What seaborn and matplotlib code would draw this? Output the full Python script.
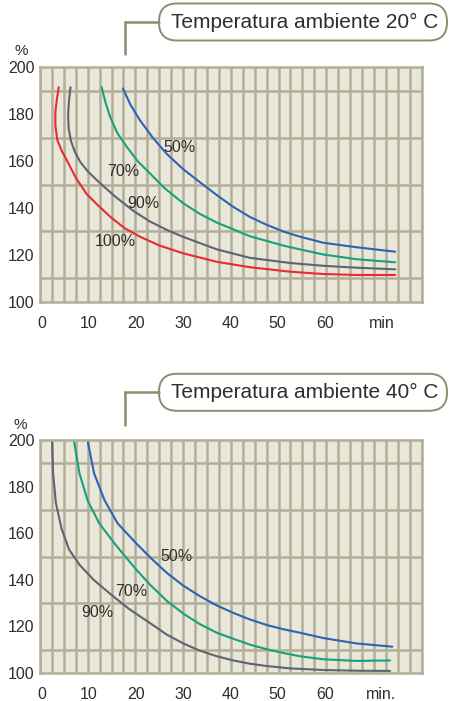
import matplotlib.pyplot as plt
import seaborn as sns
import numpy as np
import pandas as pd
from matplotlib.patches import FancyBboxPatch
from matplotlib.lines import Line2D

# === Data ===

# 20 C panel: drying curves per relative humidity.
t20_100_x = [3.6, 3.2, 2.9, 2.9, 3.3, 4.2, 5.3, 7.2, 9.5, 12.0, 14.5, 17.5, 20.8, 25.0, 30.0, 37.1, 44.1, 52.6, 59.7, 66.7, 74.9]
t20_100_y = [191.4, 186, 181, 175, 169, 164.5, 160.4, 153, 146, 141, 136.3, 131.5, 127.8, 124, 120.7, 117.1, 114.8, 112.9, 111.9, 111.5, 111.5]
t20_90_x = [6.1, 5.8, 5.6, 5.7, 6.2, 7.0, 8.2, 9.8, 12.4, 15.5, 19.4, 22.9, 26.5, 30.0, 37.1, 44.1, 52.6, 59.7, 66.7, 74.9]
t20_90_y = [191.4, 186, 180, 174, 168.5, 164, 159.5, 155.5, 150.5, 145, 138.8, 134.3, 130.7, 127.7, 122.4, 118.8, 116.6, 115.4, 114.6, 113.9]
t20_70_x = [12.7, 13.5, 14.5, 16.0, 18.0, 20.3, 22.9, 26.0, 30.0, 33.5, 37.1, 44.1, 51.2, 54.7, 59.7, 66.7, 74.9]
t20_70_y = [191.4, 185, 178.8, 172, 166.1, 160, 154.8, 148.5, 142, 137.5, 133.8, 128, 124, 122.4, 120.2, 118.2, 116.9]
t20_50_x = [17.2, 18.8, 20.8, 23.5, 26.5, 30.0, 33.5, 37.1, 40.5, 44.1, 47.5, 51.2, 54.7, 59.7, 66.7, 74.9]
t20_50_y = [190.9, 184, 177.4, 170, 163, 156.5, 151, 145.5, 140.6, 136.2, 133, 130, 127.8, 125.2, 123.3, 121.4]

# 40 C panel.
t40_90_x = [2.2, 2.4, 3.0, 4.2, 5.8, 8.0, 11.0, 14.5, 18.5, 22.9, 26.5, 30.0, 33.5, 37.1, 40.6, 44.1, 47.7, 52.6, 59.7, 66.7, 73.8]
t40_90_y = [200, 186, 173, 162, 153, 146.5, 140, 134, 127.5, 121.5, 116.5, 112.7, 109.6, 107.2, 105.4, 104, 103, 102, 101.3, 101, 100.9]
t40_70_x = [6.8, 8.0, 9.7, 12.2, 15.4, 17.5, 20.0, 22.9, 26.5, 30.0, 33.5, 37.1, 40.6, 44.1, 47.7, 51.2, 54.7, 59.7, 66.7, 73.8]
t40_70_y = [200, 185.7, 174.2, 164.2, 155.7, 150.5, 144.5, 138, 131, 125.5, 121, 117.3, 114.7, 112.2, 110.2, 108.6, 107.2, 105.9, 105.2, 105.4]
t40_50_x = [9.7, 11.1, 13.3, 16.1, 20.0, 23.2, 26.5, 30.0, 33.5, 37.1, 40.6, 44.1, 47.7, 51.2, 54.7, 59.7, 66.7, 74.3]
t40_50_y = [200, 185.7, 174.2, 164.2, 155.7, 149.2, 143, 137.5, 133, 129, 125.8, 123, 120.6, 118.8, 117.3, 115, 112.7, 111.3]

# Curve label positions (min, %).
labels_20 = {'50%': (29.1, 165.8), '70%': (17.2, 155.7), '90%': (21.5, 142), '100%': (15.5, 125.7)}
labels_40 = {'50%': (28.6, 149.9), '70%': (18.9, 135.2), '90%': (11.8, 125.9)}

x_ticks = [0, 10, 20, 30, 40, 50, 60, 72]
x_labels_20 = ['0', '10', '20', '30', '40', '50', '60', 'min']
x_labels_40 = ['0', '10', '20', '30', '40', '50', '60', 'min.']
y_ticks = [100, 120, 140, 160, 180, 200]

titles = ['Temperatura ambiente 20° C', 'Temperatura ambiente 40° C']

palette = {'50%': '#2c63b2', '70%': '#16a07b', '90%': '#5a6571', '100%': '#ea2a30'}


# === Setup ===

sns.set_style('white')
plt.rcParams['font.family'] = ['Liberation Sans', 'DejaVu Sans']
text_color = '#2e2e2e'
grid_color = '#b3af97'
face_color = '#e9e7da'
frame_color = '#8e8c72'

fig = plt.figure(figsize=(4.5, 7.01), dpi=100)
x0, x1 = -0.36, 80.5


def frame(series):
    parts = []
    for name, (xs, ys) in series.items():
        parts.append(pd.DataFrame({'min': xs, 'pct': ys, 'rh': name}))
    return pd.concat(parts, ignore_index=True)


def draw_panel(ax, data, labels, xlabels):
    ax.set_facecolor(face_color)
    sns.lineplot(data=data, x='min', y='pct', hue='rh', palette=palette,
                 sort=False, estimator=None, lw=1.5, legend=False, ax=ax)
    ax.set_xlim(x0, x1)
    ax.set_ylim(100, 200)
    ax.set_xticks(x_ticks)
    ax.set_xticklabels(xlabels)
    ax.set_yticks(y_ticks)
    ax.set_xticks(np.linspace(x0, x1, 33), minor=True)
    ax.set_yticks(range(100, 201, 10), minor=True)
    ax.grid(False)
    ax.grid(which='minor', color=grid_color, lw=1.8)
    ax.set_axisbelow(True)
    ax.tick_params(which='both', length=0, labelsize=11.5, colors=text_color)
    ax.tick_params(axis='x', pad=10)
    ax.tick_params(axis='y', pad=4)
    ax.set_xlabel('')
    ax.set_ylabel('')
    for s in ax.spines.values():
        s.set_color(grid_color)
        s.set_linewidth(1.8)
    for name, (lx, ly) in labels.items():
        ax.text(lx, ly, name, fontsize=11.5, color=text_color, ha='center', va='center')


def draw_title(text, y_mid, drop):
    # pill box with connector, in inches
    h = 0.37
    box = FancyBboxPatch((1.59, y_mid - h / 2), 2.88, h,
                         boxstyle='round,pad=0,rounding_size=0.18',
                         transform=fig.dpi_scale_trans, fc='white',
                         ec=frame_color, lw=1.4)
    fig.patches.append(box)
    fig.lines.append(Line2D([1.25, 1.59], [y_mid, y_mid], transform=fig.dpi_scale_trans,
                            color=frame_color, lw=1.8))
    fig.lines.append(Line2D([1.25, 1.25], [y_mid, y_mid - drop], transform=fig.dpi_scale_trans,
                            color=frame_color, lw=1.8))
    fig.text(3.045, y_mid, text, transform=fig.dpi_scale_trans, ha='center', va='center',
             fontsize=15, color=text_color)


# === Top panel: 20 C ===
ax1 = fig.add_axes([0.0889, 0.5692, 0.848, 0.3352])
data_20 = frame({'100%': (t20_100_x, t20_100_y), '90%': (t20_90_x, t20_90_y),
                 '70%': (t20_70_x, t20_70_y), '50%': (t20_50_x, t20_50_y)})
draw_panel(ax1, data_20, labels_20, x_labels_20)
draw_title(titles[0], 6.79, 0.32)
fig.text(0.21, 6.50, '%', transform=fig.dpi_scale_trans, ha='center', va='center',
         fontsize=11, color=text_color)

# === Bottom panel: 40 C ===
ax2 = fig.add_axes([0.0889, 0.0399, 0.848, 0.3324])
data_40 = frame({'90%': (t40_90_x, t40_90_y), '70%': (t40_70_x, t40_70_y),
                 '50%': (t40_50_x, t40_50_y)})
draw_panel(ax2, data_40, labels_40, x_labels_40)
draw_title(titles[1], 3.087, 0.33)
fig.text(0.20, 2.76, '%', transform=fig.dpi_scale_trans, ha='center', va='center',
         fontsize=11, color=text_color)

fig.savefig('out.png', dpi=100)
